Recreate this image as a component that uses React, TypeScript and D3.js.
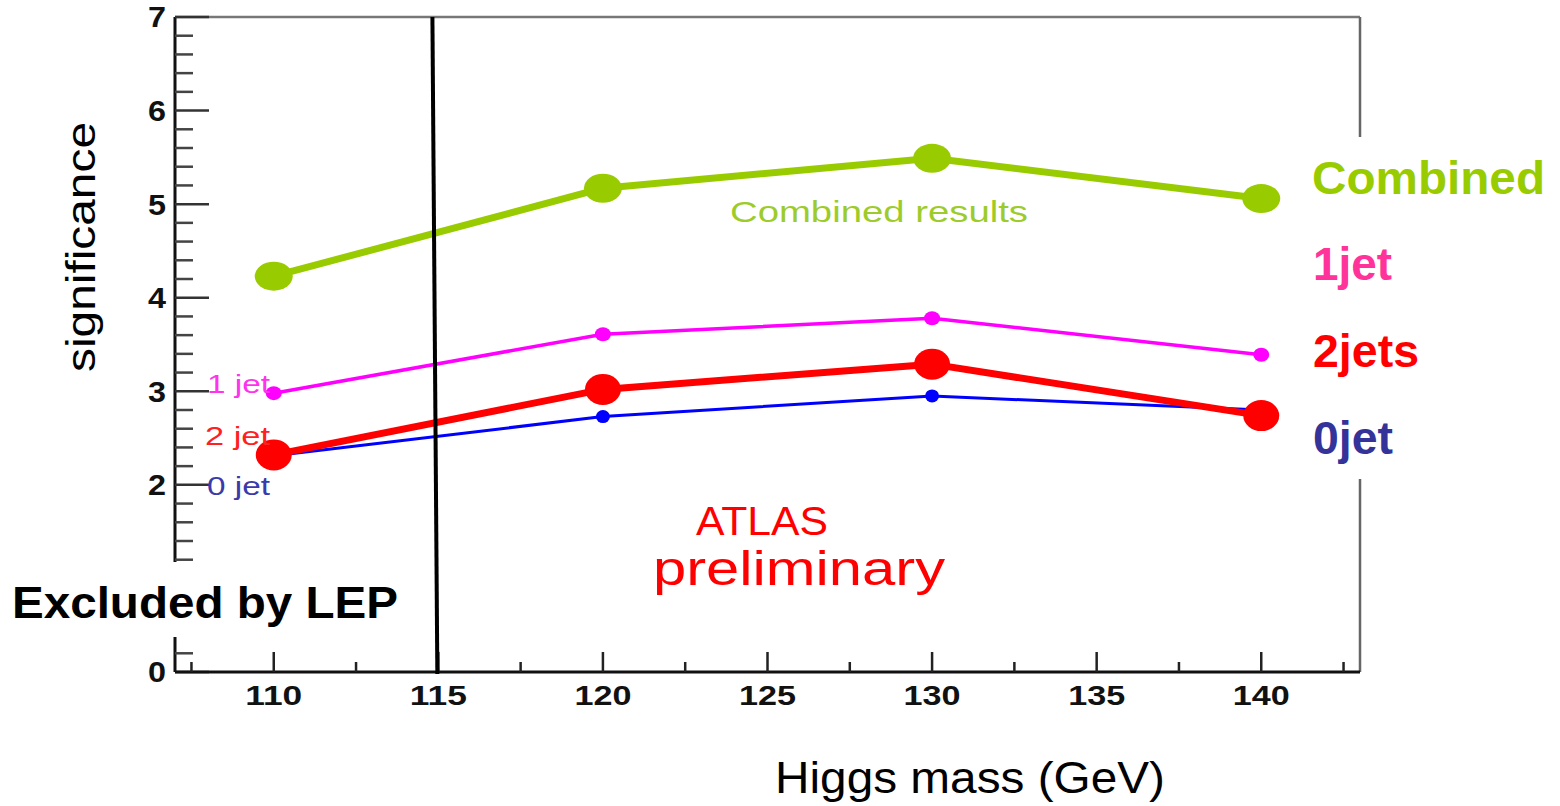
import React from "react";
import * as d3 from "d3";

const masses = [110, 120, 130, 140];
const combined = [4.23, 5.17, 5.49, 5.06];
const oneJet = [2.98, 3.61, 3.78, 3.39];
const twoJets = [2.32, 3.02, 3.29, 2.74];
const zeroJet = [2.31, 2.73, 2.95, 2.8];

const xMajorTicks = [110, 115, 120, 125, 130, 135, 140];
const yMajorTicks = [0, 1, 2, 3, 4, 5, 6, 7];
// tick label hidden behind the "Excluded by LEP" box in the reference
const yHiddenLabels = [1];

const W = 1560;
const H = 806;
const FONT = "'Liberation Sans', Arial, Helvetica, sans-serif";

export default function App() {
  const x = d3.scaleLinear().domain([107, 143]).range([175, 1360]);
  const y = d3.scaleLinear().domain([0, 7]).range([672, 17]);

  const xMinor = d3.range(107.5, 143, 2.5).filter((v) => Math.abs(v % 5) > 0.01);
  const yMinor = d3.range(0, 7.001, 0.2).filter((v) => Math.abs(v - Math.round(v)) > 0.01);

  const line = d3
    .line<[number, number]>()
    .x((d) => x(d[0]))
    .y((d) => y(d[1]));

  const pts = (vals: number[]) => masses.map((m, i) => [m, vals[i]] as [number, number]);

  const series = [
    { vals: zeroJet, color: "#0000ff", width: 3, rx: 7, ry: 6.5 },
    { vals: oneJet, color: "#ff00ff", width: 3.5, rx: 8, ry: 7 },
    { vals: twoJets, color: "#ff0000", width: 7, rx: 18, ry: 15.5 },
    { vals: combined, color: "#99cc00", width: 7, rx: 19, ry: 14.5 },
  ];

  const [x0, x1] = x.range();
  const [yb, yt] = y.range();

  return (
    <svg
      width={W}
      height={H}
      style={{ position: "absolute", left: 0, top: 0, background: "#fff" }}
      fontFamily={FONT}
    >
      <rect x={0} y={0} width={W} height={H} fill="#fff" />

      {/* frame top/right */}
      <line x1={x0} x2={x1} y1={yt} y2={yt} stroke="#777" strokeWidth={2.5} />
      <line x1={x1} x2={x1} y1={yt} y2={yb} stroke="#666" strokeWidth={2.5} />

      {/* left axis */}
      <line x1={x0} x2={x0} y1={yt} y2={yb} stroke="#111" strokeWidth={3} />
      {yMajorTicks.map((v) => (
        <g key={"ym" + v}>
          <line x1={x0} x2={x0 + 34} y1={y(v)} y2={y(v)} stroke="#333" strokeWidth={2.5} />
          {yHiddenLabels.includes(v) ? null : (
            <text
              x={166}
              y={y(v)}
              dy="0.36em"
              textAnchor="end"
              fontSize={29}
              fontWeight="bold"
              fill="#111"
              textLength={18}
              lengthAdjust="spacingAndGlyphs"
            >
              {v}
            </text>
          )}
        </g>
      ))}
      {yMinor.map((v) => (
        <line key={"yn" + v} x1={x0} x2={x0 + 18} y1={y(v)} y2={y(v)} stroke="#444" strokeWidth={2.5} />
      ))}

      {/* bottom axis */}
      <line x1={x0} x2={x1} y1={yb} y2={yb} stroke="#111" strokeWidth={3} />
      {xMajorTicks.map((v) => (
        <g key={"xm" + v}>
          <line x1={x(v)} x2={x(v)} y1={yb} y2={yb - 20} stroke="#222" strokeWidth={2.5} />
          <text
            x={x(v)}
            y={705}
            textAnchor="middle"
            fontSize={28}
            fontWeight="bold"
            fill="#111"
            textLength={57}
            lengthAdjust="spacingAndGlyphs"
          >
            {v}
          </text>
        </g>
      ))}
      {xMinor.map((v) => (
        <line key={"xn" + v} x1={x(v)} x2={x(v)} y1={yb} y2={yb - 10} stroke="#222" strokeWidth={2.5} />
      ))}

      {/* series */}
      {series.map((s, i) => (
        <g key={"s" + i}>
          <path d={line(pts(s.vals)) || ""} fill="none" stroke={s.color} strokeWidth={s.width} strokeLinejoin="round" />
          {pts(s.vals).map((p, j) => (
            <ellipse key={j} cx={x(p[0])} cy={y(p[1])} rx={s.rx} ry={s.ry} fill={s.color} />
          ))}
        </g>
      ))}

      {/* in-plot labels */}
      <text x={730} y={222} fontSize={30} fill="#9dcc2a" textLength={298} lengthAdjust="spacingAndGlyphs">
        Combined results
      </text>
      <text x={207} y={393} fontSize={26} fill="#ff33ee" textLength={63} lengthAdjust="spacingAndGlyphs">
        1 jet
      </text>
      <text x={205} y={445} fontSize={26} fill="#ff2020" textLength={65} lengthAdjust="spacingAndGlyphs">
        2 jet
      </text>
      <text x={207} y={495} fontSize={26} fill="#3a3aaa" textLength={63} lengthAdjust="spacingAndGlyphs">
        0 jet
      </text>
      <text x={696} y={535} fontSize={41} fill="#ff0000" textLength={132} lengthAdjust="spacingAndGlyphs">
        ATLAS
      </text>
      <text x={653} y={585} fontSize={48} fill="#ff0000" textLength={292} lengthAdjust="spacingAndGlyphs">
        preliminary
      </text>

      {/* Excluded by LEP box */}
      <rect x={0} y={562} width={420} height={75} fill="#fff" />
      <text x={12} y={618} fontSize={45} fontWeight="bold" fill="#000" textLength={386} lengthAdjust="spacingAndGlyphs">
        Excluded by LEP
      </text>

      {/* LEP limit line */}
      <line x1={x(114.82)} x2={x(114.97)} y1={yt} y2={yb + 2} stroke="#000" strokeWidth={4} />

      {/* right legend box */}
      <rect x={1292} y={137} width={268} height={342} fill="#fff" />
      <text x={1312} y={194} fontSize={46} fontWeight="bold" fill="#99cc00" textLength={233} lengthAdjust="spacingAndGlyphs">
        Combined
      </text>
      <text x={1313} y={280} fontSize={46} fontWeight="bold" fill="#ff3399" textLength={79} lengthAdjust="spacingAndGlyphs">
        1jet
      </text>
      <text x={1313} y={367} fontSize={46} fontWeight="bold" fill="#ff0000" textLength={106} lengthAdjust="spacingAndGlyphs">
        2jets
      </text>
      <text x={1313} y={454} fontSize={46} fontWeight="bold" fill="#333399" textLength={80} lengthAdjust="spacingAndGlyphs">
        0jet
      </text>

      {/* axis titles */}
      <text
        transform="translate(95,247) rotate(-90)"
        textAnchor="middle"
        fontSize={40}
        fill="#000"
        textLength={250}
        lengthAdjust="spacingAndGlyphs"
      >
        significance
      </text>
      <text x={775} y={793} fontSize={45} fill="#000" textLength={390} lengthAdjust="spacingAndGlyphs">
        Higgs mass (GeV)
      </text>
    </svg>
  );
}
